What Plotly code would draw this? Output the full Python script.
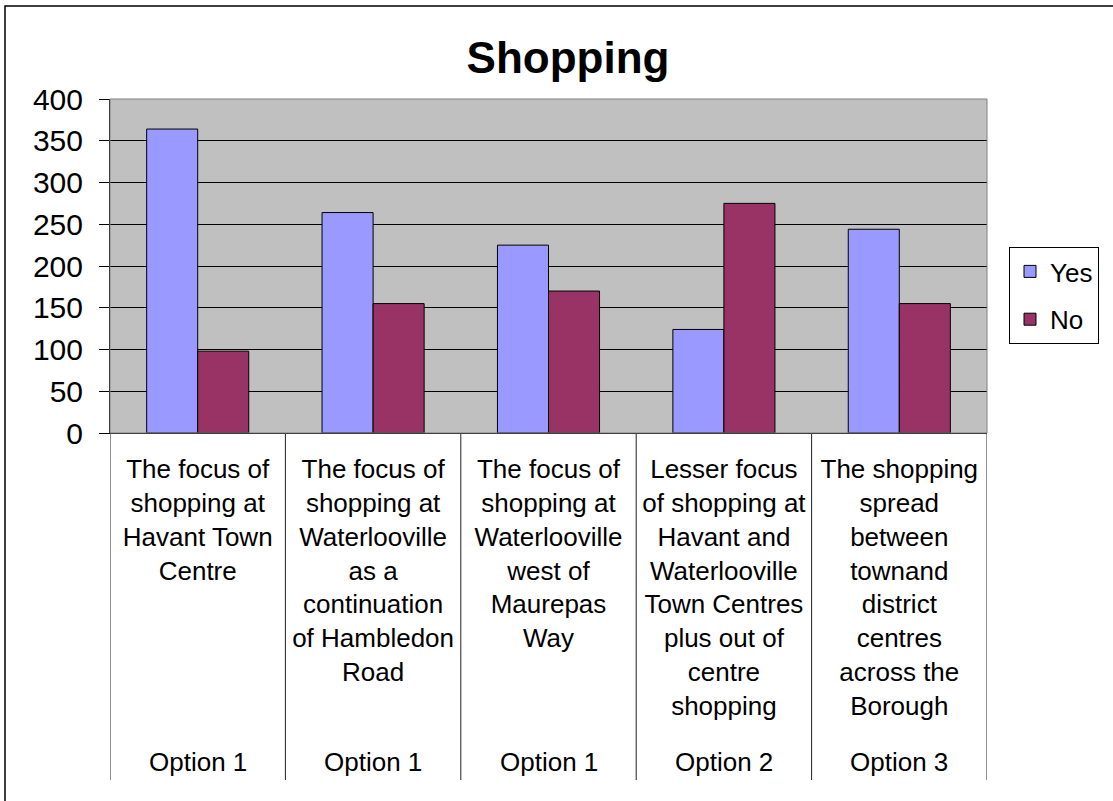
import plotly.graph_objects as go

categories = [
    "The focus of<br>shopping at<br>Havant Town<br>Centre",
    "The focus of<br>shopping at<br>Waterlooville<br>as a<br>continuation<br>of Hambledon<br>Road",
    "The focus of<br>shopping at<br>Waterlooville<br>west of<br>Maurepas<br>Way",
    "Lesser focus<br>of shopping at<br>Havant and<br>Waterlooville<br>Town Centres<br>plus out of<br>centre<br>shopping",
    "The shopping<br>spread<br>between<br>townand<br>district<br>centres<br>across the<br>Borough",
]
options = ["Option 1", "Option 1", "Option 1", "Option 2", "Option 3"]
series_names = ["Yes", "No"]
yes_values = [364, 264, 225, 124, 244]
no_values = [98, 155, 170, 275, 155]
y_ticks = [0, 50, 100, 150, 200, 250, 300, 350, 400]

FONT = "Liberation Sans, Arial, sans-serif"
W, H = 1113, 801
L, R, T, B = 110, 987, 99, 433

idx = list(range(len(categories)))

fig = go.Figure()
fig.add_trace(go.Bar(x=idx, y=yes_values, name=series_names[0], legendgroup="yes",
                     marker=dict(color="#9999FF", line=dict(color="#000000", width=1))))
fig.add_trace(go.Bar(x=idx, y=no_values, name=series_names[1], legendgroup="no",
                     marker=dict(color="#993366", line=dict(color="#000000", width=1))))

ph = B - T
pw = R - L

def py(pix):
    return (B - pix) / ph

def px(pix):
    return (pix - L) / pw

shapes = []
# outer chart frame (left & top visible)
shapes.append(dict(type="rect", xref="paper", yref="paper",
                   x0=px(5), x1=px(1140), y0=py(830), y1=py(6),
                   line=dict(color="#000000", width=1.5), layer="below"))
# category divider lines below the axis
for k in range(len(categories) + 1):
    shapes.append(dict(type="line", xref="x", yref="paper",
                       x0=k - 0.5, x1=k - 0.5, y0=0, y1=py(780),
                       line=dict(color="#222222", width=1)))
# plot area border
shapes.append(dict(type="rect", xref="paper", yref="paper", x0=0, x1=1, y0=0, y1=1,
                   line=dict(color="#808080", width=1)))

annotations = []
for i, opt in enumerate(options):
    annotations.append(dict(x=i, y=py(762), xref="x", yref="paper", text=opt,
                            showarrow=False, font=dict(family=FONT, size=26, color="#000000"),
                            xanchor="center", yanchor="middle"))

fig.update_layout(
    width=W, height=H,
    margin=dict(l=L, r=W - R, t=T, b=H - B),
    paper_bgcolor="#FFFFFF",
    plot_bgcolor="#C0C0C0",
    barmode="group",
    bargap=0.418,
    bargroupgap=0,
    title=dict(text="<b>Shopping</b>", x=568 / W, xanchor="center", xref="container",
               y=1 - 58 / H, yref="container", yanchor="middle",
               font=dict(family=FONT, size=44, color="#000000")),
    font=dict(family=FONT, color="#000000"),
    xaxis=dict(tickvals=idx, ticktext=categories, range=[-0.5, len(categories) - 0.5],
               showgrid=False, ticks="", showline=True, linecolor="#000000", linewidth=1,
               tickfont=dict(family=FONT, size=26, color="#000000"),
               ticklabelstandoff=13, zeroline=False),
    yaxis=dict(range=[0, 400], tickvals=y_ticks, showgrid=True, gridcolor="#000000",
               gridwidth=1, ticks="outside", ticklen=10, tickcolor="#000000",
               showline=True, linecolor="#000000", linewidth=1, zeroline=False,
               ticklabelstandoff=10,
               tickfont=dict(family=FONT, size=30, color="#000000")),
    legend=dict(x=px(1009), y=py(247), xanchor="left", yanchor="top",
                bordercolor="#000000", borderwidth=1, bgcolor="#FFFFFF",
                traceorder="grouped", tracegroupgap=11,
                font=dict(family=FONT, size=26, color="#000000")),
    shapes=shapes,
    annotations=annotations,
)

fig.write_html("out.html", config={"displayModeBar": False},
               post_script="document.body.style.margin='0';document.body.style.overflow='hidden';")
